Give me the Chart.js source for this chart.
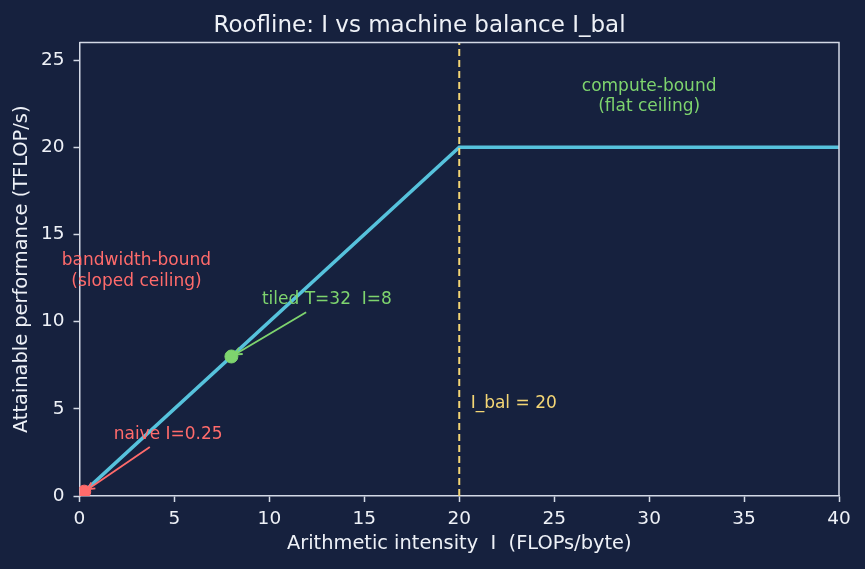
<!DOCTYPE html>
<html>
<head>
<meta charset="utf-8">
<script src="https://cdn.jsdelivr.net/npm/chart.js@4.4.1/dist/chart.umd.min.js"></script>
<style>
  html, body { margin: 0; padding: 0; background: #16213e; }
  #wrap { width: 865px; height: 569px; }
</style>
</head>
<body>
<div id="wrap"><canvas id="roofline" width="865" height="569"></canvas></div>
<script>
// roofline ceiling: intensity (FLOPs/byte) -> attainable TFLOP/s
const roofX = [0, 20, 40];
const roofY = [0, 20, 20];
// machine balance
const iBal = 20;
const yTop = 26;
// measured kernels
const kernelNames = ['naive', 'tiled'];
const kernelX = [0.25, 8];
const kernelY = [0.25, 8];
const xTicks = [0, 5, 10, 15, 20, 25, 30, 35, 40];
const yTicks = [0, 5, 10, 15, 20, 25];

const BG = '#16213e';
const FG = '#eef1f7';
const SPINE = '#d3d9e6';
const CYAN = '#56c2dc';
const YELLOW = '#f4d675';
const RED = '#ff6b6b';
const GREEN = '#7ed46e';
const FONT = "'DejaVu Sans', sans-serif";

// text notes, placed in data units
const notes = [
  { lines: ['bandwidth-bound', '(sloped ceiling)'], x: 3, y: 12.9, color: RED },
  { lines: ['compute-bound', '(flat ceiling)'], x: 30, y: 22.9, color: GREEN },
  { lines: ['I_bal = 20'], x: 20.6, y: 5.3, color: YELLOW, align: 'left' },
  { lines: ['naive I=0.25'], x: 4.67, y: 3.53, color: RED, target: 0 },
  { lines: ['tiled T=32  I=8'], x: 13.03, y: 11.24, color: GREEN, target: 1 }
];

function drawArrow(ctx, x0, y0, x1, y1, color) {
  const dx = x1 - x0, dy = y1 - y0;
  const len = Math.hypot(dx, dy);
  const ux = dx / len, uy = dy / len;
  const hl = 7, hw = 3.6;
  ctx.strokeStyle = color;
  ctx.lineWidth = 1.8;
  ctx.beginPath();
  ctx.moveTo(x0, y0);
  ctx.lineTo(x1, y1);
  ctx.stroke();
  ctx.beginPath();
  ctx.moveTo(x1 - ux * hl - uy * hw, y1 - uy * hl + ux * hw);
  ctx.lineTo(x1, y1);
  ctx.lineTo(x1 - ux * hl + uy * hw, y1 - uy * hl - ux * hw);
  ctx.stroke();
}

const decor = {
  id: 'decor',
  beforeDraw(chart) {
    const ctx = chart.ctx;
    ctx.save();
    ctx.fillStyle = BG;
    ctx.fillRect(0, 0, chart.width, chart.height);
    ctx.restore();
  },
  afterDatasetsDraw(chart) {
    const { ctx, chartArea: a, scales: { x, y } } = chart;
    ctx.save();
    // top and right spines
    ctx.strokeStyle = SPINE;
    ctx.lineWidth = 1.5;
    ctx.beginPath();
    ctx.moveTo(a.left, a.top);
    ctx.lineTo(a.right, a.top);
    ctx.lineTo(a.right, a.bottom);
    ctx.stroke();

    ctx.font = '17px ' + FONT;
    ctx.textBaseline = 'middle';
    const lh = 20.5;
    notes.forEach(n => {
      const cx = x.getPixelForValue(n.x);
      const cy = y.getPixelForValue(n.y);
      ctx.fillStyle = n.color;
      ctx.textAlign = n.align || 'center';
      n.lines.forEach((t, i) => {
        ctx.fillText(t, cx, cy + (i - (n.lines.length - 1) / 2) * lh);
      });
      if (n.target !== undefined) {
        const tx = x.getPixelForValue(kernelX[n.target]);
        const ty = y.getPixelForValue(kernelY[n.target]);
        const w = Math.max(...n.lines.map(t => ctx.measureText(t).width));
        const hwid = w / 2, hh = n.lines.length * lh / 2;
        const dx = tx - cx, dy = ty - cy;
        const len = Math.hypot(dx, dy);
        const ux = dx / len, uy = dy / len;
        const t = Math.min(hwid / Math.abs(ux), hh / Math.abs(uy)) + 4;
        drawArrow(ctx, cx + ux * t, cy + uy * t, tx - ux * 4, ty - uy * 4, n.color);
      }
    });
    ctx.restore();
  }
};

const tickOpts = (vals) => (scale) => {
  scale.ticks = vals.map(v => ({ value: v }));
};

new Chart(document.getElementById('roofline'), {
  type: 'scatter',
  data: {
    datasets: [
      {
        label: kernelNames[0],
        data: [{ x: kernelX[0], y: kernelY[0] }],
        backgroundColor: RED,
        borderColor: RED,
        pointRadius: 6.5,
        order: 0
      },
      {
        label: kernelNames[1],
        data: [{ x: kernelX[1], y: kernelY[1] }],
        backgroundColor: GREEN,
        borderColor: GREEN,
        pointRadius: 6.5,
        order: 0
      },
      {
        label: 'I_bal',
        data: [{ x: iBal, y: 0 }, { x: iBal, y: yTop }],
        showLine: true,
        borderColor: YELLOW,
        borderWidth: 2,
        borderDash: [7, 4],
        pointRadius: 0,
        order: 1
      },
      {
        label: 'roofline',
        data: roofX.map((v, i) => ({ x: v, y: roofY[i] })),
        showLine: true,
        borderColor: CYAN,
        borderWidth: 3.5,
        pointRadius: 0,
        order: 2
      }
    ]
  },
  options: {
    responsive: false,
    animation: false,
    devicePixelRatio: 1,
    layout: { padding: { left: 0, right: 26, top: 0, bottom: 0 } },
    plugins: {
      legend: { display: false },
      tooltip: { enabled: false },
      title: {
        display: true,
        text: 'Roofline: I vs machine balance I_bal',
        color: FG,
        font: { family: FONT, size: 23, weight: 'normal' },
        padding: { top: 12, bottom: 3 }
      }
    },
    scales: {
      x: {
        type: 'linear',
        min: 0,
        max: 40,
        afterBuildTicks: tickOpts(xTicks),
        afterFit(scale) { scale.height = 73; },
        grid: { drawOnChartArea: false, tickLength: 6, tickWidth: 1.5, tickColor: SPINE },
        border: { color: SPINE, width: 1.5 },
        ticks: { color: FG, font: { family: FONT, size: 18.5 }, padding: 6, maxRotation: 0 },
        title: {
          display: true,
          text: 'Arithmetic intensity  I  (FLOPs/byte)',
          color: FG,
          font: { family: FONT, size: 19.4 },
          padding: { top: 0, bottom: 13 }
        }
      },
      y: {
        type: 'linear',
        min: 0,
        max: yTop,
        afterBuildTicks: tickOpts(yTicks),
        afterFit(scale) { scale.width = 79.5; },
        grid: { drawOnChartArea: false, tickLength: 6, tickWidth: 1.5, tickColor: SPINE },
        border: { color: SPINE, width: 1.5 },
        ticks: { color: FG, font: { family: FONT, size: 18.5 }, padding: 9 },
        title: {
          display: true,
          text: 'Attainable performance (TFLOP/s)',
          color: FG,
          font: { family: FONT, size: 19.4 },
          padding: { top: 10, bottom: 0 }
        }
      }
    }
  },
  plugins: [decor]
});
</script>
</body>
</html>
